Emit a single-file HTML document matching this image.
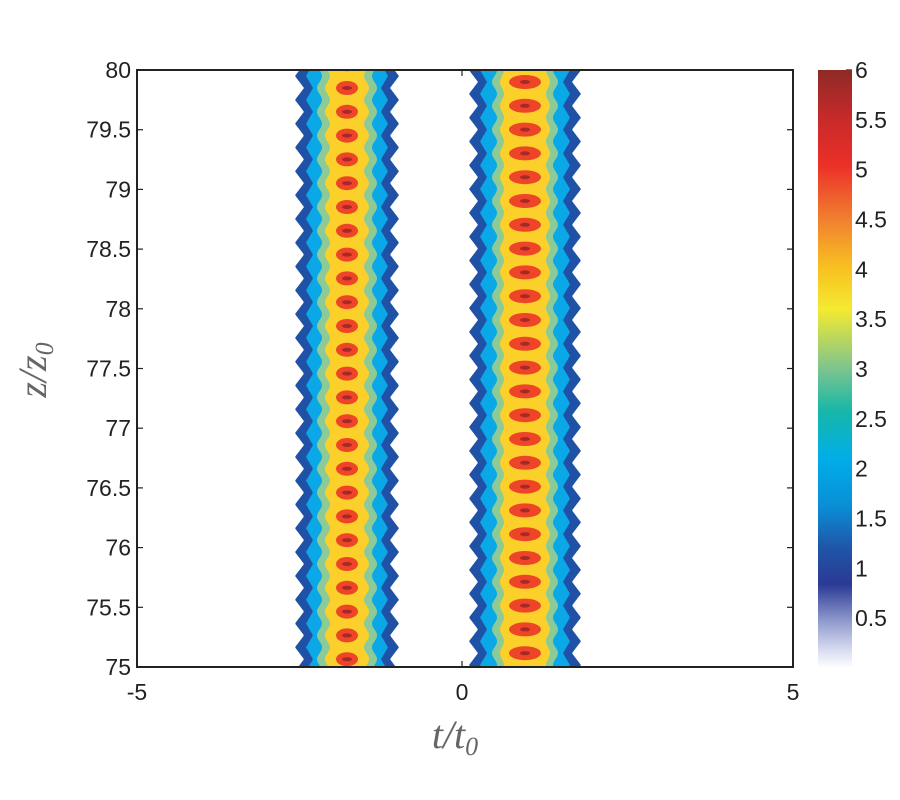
<!DOCTYPE html>
<html><head><meta charset="utf-8"><style>
html,body{margin:0;padding:0;background:#fff;}
svg{display:block;}
text{font-family:"Liberation Sans",sans-serif;fill:#222;}
</style></head><body>
<svg id="s" width="900" height="800" xmlns="http://www.w3.org/2000/svg">
<defs>
<linearGradient id="cb" x1="0" y1="1" x2="0" y2="0">
<stop offset="0" stop-color="#ffffff"/>
<stop offset="0.03" stop-color="#d8dcf0"/>
<stop offset="0.08" stop-color="#8e98cc"/>
<stop offset="0.14" stop-color="#2b3a94"/>
<stop offset="0.2" stop-color="#1f55a8"/>
<stop offset="0.27" stop-color="#0a8ed6"/>
<stop offset="0.35" stop-color="#00aee8"/>
<stop offset="0.43" stop-color="#17b7a8"/>
<stop offset="0.5" stop-color="#7cc48e"/>
<stop offset="0.6" stop-color="#f4ea30"/>
<stop offset="0.67" stop-color="#f8c020"/>
<stop offset="0.75" stop-color="#f18030"/>
<stop offset="0.84" stop-color="#ec3028"/>
<stop offset="0.92" stop-color="#c62a2a"/>
<stop offset="1" stop-color="#8e2a26"/>
</linearGradient>
<clipPath id="pc"><rect x="137" y="70" width="656" height="597"/></clipPath>
</defs>
<g id="plot" clip-path="url(#pc)"></g>
<rect x="137" y="70" width="656" height="597" fill="none" stroke="#222" stroke-width="2"/>
<g id="ticks" stroke="#222" stroke-width="1.2"></g>
<g id="labels" font-size="23" text-anchor="end"></g>
<rect x="818" y="70" width="34" height="598" fill="url(#cb)"/>
<g id="cbl" font-size="23"></g>
<text x="0" y="0" transform="translate(46,370) rotate(-90)" text-anchor="middle" font-size="40" style="font-family:'Liberation Serif',serif;font-style:italic;fill:#666">z/z<tspan font-size="26" dy="7">0</tspan></text>
<text x="455" y="748" text-anchor="middle" font-size="40" style="font-family:'Liberation Serif',serif;font-style:italic;fill:#666">t/t<tspan font-size="26" dy="7">0</tspan></text>
</svg>
<script>
var NS="http://www.w3.org/2000/svg";
function el(p,t,a){var e=document.createElementNS(NS,t);for(var k in a)e.setAttribute(k,a[k]);p.appendChild(e);return e;}
var plot=document.getElementById('plot');
var P=23.8;
function tri(u){u=((u%1)+1)%1;return u<0.5?u*2:2-u*2;}
function stripe(c,y0,layers){
  layers.forEach(function(L){
    var left=[],right=[];
    for(var y=60;y<=680;y+=1){
      var ph=(y-y0)/P;
      var v=L.sharp?tri(ph):(0.5+0.5*Math.cos(ph*2*Math.PI));
      var w=L.w+L.a*v;
      left.push((c-w).toFixed(1)+","+y);
      right.unshift((c+w).toFixed(1)+","+y);
    }
    el(plot,'polygon',{points:left.concat(right).join(' '),fill:L.col});
  });
  for(var k=-2;k<30;k++){
    var y=y0+k*P;
    el(plot,'ellipse',{cx:c,cy:y,rx:layers.rx,ry:7,fill:'#ee4528'});
    if(layers.dark) el(plot,'ellipse',{cx:c,cy:y,rx:5,ry:2,fill:'#a8282a'});
  }
}
var A=[{w:43,a:9,col:'#1f52a6',sharp:true},{w:34,a:7,col:'#0aa8e6',sharp:true},{w:25,a:5,col:'#8ccb98'},{w:17,a:5,col:'#fcd02a'}];
A.rx=11;A.dark=true;
stripe(347,88,A);
var B=[{w:47,a:9,col:'#1f52a6',sharp:true},{w:38,a:7,col:'#0aa8e6',sharp:true},{w:28,a:5,col:'#8ccb98'},{w:21,a:4,col:'#fcd02a'}];
B.rx=16;B.dark=true;
stripe(525,82,B);
var tk=document.getElementById('ticks'),lb=document.getElementById('labels');
var yl=['80','79.5','79','78.5','78','77.5','77','76.5','76','75.5','75'];
for(var i=0;i<11;i++){var y=70+i*59.7;
 el(tk,'line',{x1:137,y1:y,x2:143,y2:y});el(tk,'line',{x1:793,y1:y,x2:787,y2:y});
 var t=el(lb,'text',{x:131,y:y+8});t.textContent=yl[i];}
[[137,'-5'],[462,'0'],[793,'5']].forEach(function(d){
 el(tk,'line',{x1:d[0],y1:667,x2:d[0],y2:661});el(tk,'line',{x1:d[0],y1:70,x2:d[0],y2:76});
 var t=el(lb,'text',{x:d[0],y:700,'text-anchor':'middle'});t.textContent=d[1];});
var cb=document.getElementById('cbl');
for(var v=1;v<=12;v++){var y=668-v*0.5*(598/6);
 el(tk,'line',{x1:846,y1:y,x2:852,y2:y});
 var t=el(cb,'text',{x:855,y:y+8});t.textContent=(v/2).toString();}
</script>
</body></html>
